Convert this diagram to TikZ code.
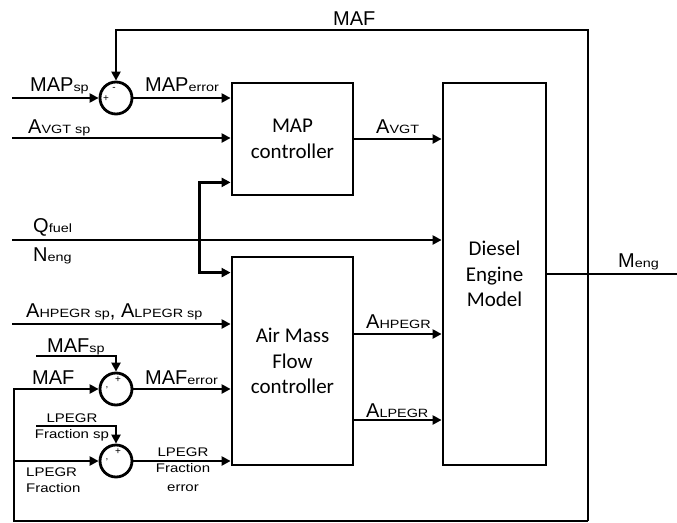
\documentclass[tikz,border=0pt]{standalone}
\usepackage{fontspec}
\setmainfont{Liberation Sans}
\newfontfamily\boxfont{Carlito}
\newfontfamily\subfont{Liberation Sans}[FakeStretch=1.2]
\usetikzlibrary{arrows.meta, positioning, calc}
% big letter followed by a small index
\newcommand{\lbl}[2]{#1{\subfont\fontsize{12}{14}\selectfont #2}}

\begin{document}
\begin{tikzpicture}[x=1pt, y=-1pt,
  blk/.style={draw, line width=2.8pt, minimum width=121pt, inner sep=0pt, align=center,
    font=\boxfont\fontsize{21}{25.5}\selectfont},
  sum/.style={draw, circle, line width=2.8pt, minimum size=32pt, inner sep=0pt},
  wire/.style={line width=2.8pt},
  arr/.style={line width=2.8pt, -{Triangle[length=9pt, width=9pt]}},
  txt/.style={anchor=base west, inner sep=0pt, font=\fontsize{20}{24}\selectfont},
  sml/.style={inner sep=0pt, font=\subfont\fontsize{12.5}{16}\selectfont},
  sgn/.style={inner sep=0pt, font=\fontsize{10}{10}\selectfont}]
  \useasboundingbox (0,0) rectangle (677,522);
  % blocks
  \node[blk, minimum height=112pt] (mapc) at (292.5,139) {MAP\\controller};
  \node[blk, minimum height=208pt] (amfc) at (292.5,361) {Air Mass\\Flow\\controller};
  \node[blk, minimum width=103pt, minimum height=382pt] (dem) at (494.5,274) {Diesel\\Engine\\Model};
  % summing junctions
  \node[sum] (s1) at (116,98) {};
  \node[sum] (s2) at (116,389) {};
  \node[sum] (s3) at (116,461) {};
  \node[sgn] (s1m) at ($(s1)+(-2,-9)$) {-};
  \node[sgn] (s1p) at ($(s1)+(-10,1)$) {+};
  \node[sgn] (s2p) at ($(s2)+(2,-9)$) {+};
  \node[sgn] (s2m) at ($(s2)+(-9,1)$) {'};
  \node[sgn] (s3p) at ($(s3)+(2,-9)$) {+};
  \node[sgn] (s3m) at ($(s3)+(-9,1)$) {'};
  % free ends
  \coordinate (inMAP) at (12,98);
  \coordinate (inAVGT) at (12,138);
  \coordinate (inQ) at (12,240);
  \coordinate (qsplit) at (199.5,240);
  \coordinate (inAsp) at (12,324);
  \coordinate (inMAFsp) at (36,356);
  \coordinate (inLsp) at (36,426);
  \coordinate (fbTop) at (588,30);
  \coordinate (fbBot) at (588,521);
  \coordinate (fbL) at (14,521);
  \coordinate (out) at (677,274);
  \coordinate (oHP) at ([yshift=27pt]amfc.east);
  \coordinate (oLP) at ([yshift=-59pt]amfc.east);
  % MAP loop
  \draw[arr] (inMAP) -- (s1.west);
  \draw[arr] (s1.east) -- (mapc.west |- s1);
  \draw[arr] (inAVGT) -- (mapc.west |- inAVGT);
  \draw[arr] (inQ) -- (dem.west |- inQ);
  \draw[arr] (qsplit) |- ([yshift=14pt]mapc.south west);
  \draw[arr] (qsplit) |- ([yshift=-17pt]amfc.north west);
  % air mass flow loop
  \draw[arr] (inAsp) -- (amfc.west |- inAsp);
  \draw[arr] (inMAFsp) -| (s2.north);
  \draw[arr] (s2.east) -- (amfc.west |- s2);
  \draw[arr] (inLsp) -| (s3.north);
  \draw[arr] (s3.east) -- (amfc.west |- s3);
  % actuator signals
  \draw[arr] (mapc.east) -- (dem.west |- mapc.east);
  \draw[arr] (oHP) -- (dem.west |- oHP);
  \draw[arr] (oLP) -- (dem.west |- oLP);
  % feedback
  \draw[arr] (fbBot) -- (fbTop) -| (s1.north);
  \draw[arr] (fbBot) -- (fbL) |- (s2.west);
  \draw[arr] (fbL |- s3) -- (s3.west);
  \draw[line width=2.2pt] (dem.east) -- (out);
  % labels
  \node[txt] (lMAFtop) at (333,25) {MAF};
  \node[txt] (lMAPsp) at (30,91) {\lbl{MAP}{sp}};
  \node[txt] (lMAPerr) at (145,91) {\lbl{MAP}{error}};
  \node[txt] (lAVGTsp) at (28,133) {\lbl{A}{VGT sp}};
  \node[txt] (lAVGT) at (376,133) {\lbl{A}{VGT}};
  \node[txt] (lQ) at (33,232) {\lbl{Q}{fuel}};
  \node[txt] (lN) at (33,261) {\lbl{N}{eng}};
  \node[txt] (lAsp) at (26,317) {\lbl{A}{HPEGR sp}, \lbl{A}{LPEGR sp}};
  \node[txt] (lMAFsp) at (47,352) {\lbl{MAF}{sp}};
  \node[txt] (lMAF) at (32,384) {MAF};
  \node[txt] (lMAFerr) at (145,384) {\lbl{MAF}{error}};
  \node[txt] (lAHP) at (366,328) {\lbl{A}{HPEGR}};
  \node[txt] (lALP) at (366,417) {\lbl{A}{LPEGR}};
  \node[txt] (lMeng) at (618,267) {\lbl{M}{eng}};
  \node[sml, anchor=north, align=center] (lLsp) at (72,414) {LPEGR\\Fraction sp};
  \node[sml, anchor=north west, align=left] (lLfr) at (26,468) {LPEGR\\Fraction};
  \node[sml, anchor=north, align=center] (lLerr) at (183,448) {LPEGR\\Fraction\\[3pt]error};
\end{tikzpicture}
\end{document}
